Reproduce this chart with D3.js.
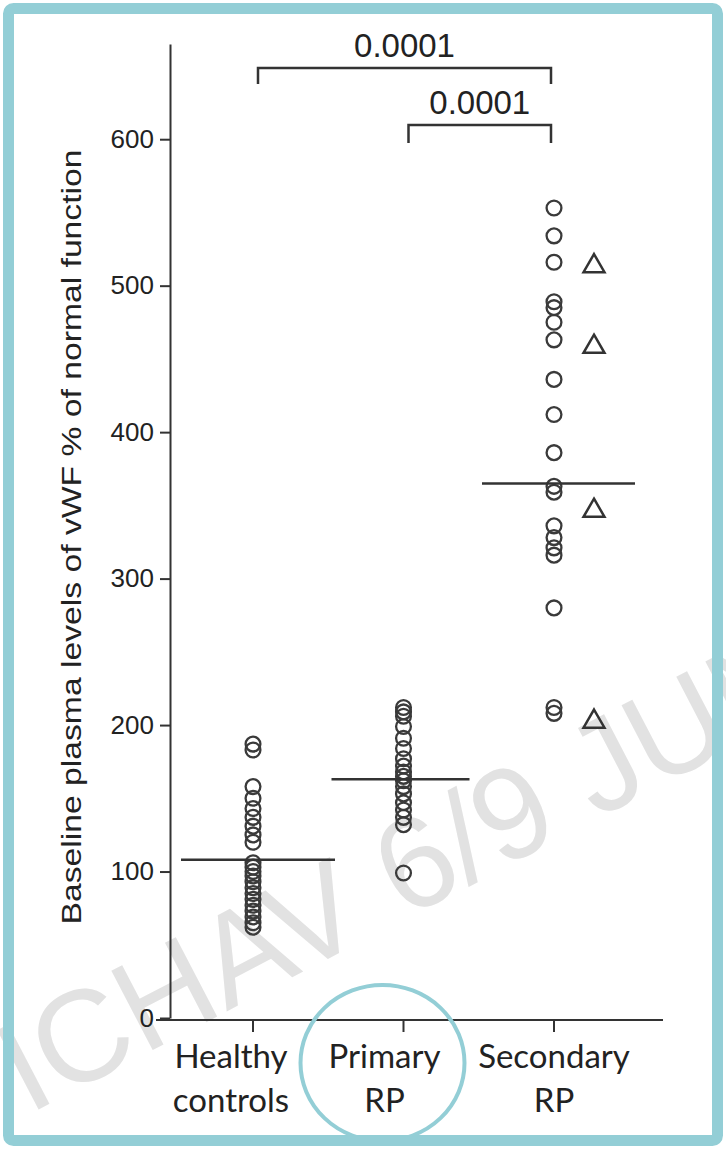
<!DOCTYPE html>
<html><head><meta charset="utf-8">
<script src="https://cdn.jsdelivr.net/npm/d3@7"></script>
<style>
html,body{margin:0;padding:0;background:#fff;}
svg{display:block;}
</style></head>
<body>
<svg id="chart" width="726" height="1149"></svg>
<script>
// ---- data ----
const categories = ["Healthy controls", "Primary RP", "Secondary RP"];
const categoryLines = [["Healthy", "controls"], ["Primary", "RP"], ["Secondary", "RP"]];
const healthyValues = [187, 183, 158, 150, 143, 137, 131, 125, 120, 106, 103, 100, 97, 93, 89, 85, 81, 77, 73, 69, 65, 62];
const primaryValues = [212, 209, 206, 199, 191, 184, 177, 172, 168, 165, 162, 158, 153, 147, 142, 137, 132, 99];
const secondaryValues = [553, 534, 516, 489, 485, 475, 463, 436, 412, 386, 363, 359, 336, 328, 321, 316, 280, 212, 208];
const secondaryTriangleValues = [514, 459, 347, 203];
const medians = [108, 163, 365];
const yTicks = [0, 100, 200, 300, 400, 500, 600];
const comparisons = [
  {from: "Healthy controls", to: "Secondary RP", label: "0.0001"},
  {from: "Primary RP", to: "Secondary RP", label: "0.0001"}
];
const yTitle = "Baseline plasma levels of vWF % of normal function";
const watermark = "ICHAV 6/9 JUN";

// ---- layout ----
const svg = d3.select("#chart");
const W = 726, H = 1149;
const teal = "#93ced6";
const ink = "#333";

const y = d3.scaleLinear().domain([0, 665]).range([1018, 44]);
const x = d3.scalePoint().domain(categories).range([253, 554]);

// watermark (behind)
svg.append("text")
  .attr("transform", "translate(28,1115) rotate(-27.5)")
  .attr("font-family", "Liberation Sans, Arial, sans-serif")
  .attr("font-size", 130)
  .attr("fill", "#e2e2e2")
  .text(watermark);

// y axis
const yAxisX = 170;
const yAxis = d3.axisLeft(y).tickValues(yTicks).tickSize(10).tickSizeOuter(0).tickPadding(6);
const gy = svg.append("g").attr("transform", `translate(${yAxisX},0)`).call(yAxis);
gy.select(".domain").attr("stroke", ink).attr("stroke-width", 2);
gy.selectAll(".tick line").attr("stroke", ink).attr("stroke-width", 2);
gy.selectAll(".tick text")
  .attr("font-family", "Liberation Sans, Arial, sans-serif")
  .attr("font-size", 26).attr("fill", "#222");

// x axis
const xAxisY = y(0) + 2;
svg.append("line").attr("x1", 156).attr("x2", 663).attr("y1", xAxisY).attr("y2", xAxisY)
  .attr("stroke", ink).attr("stroke-width", 2);
svg.selectAll(".xtick").data(categories).enter().append("line")
  .attr("x1", d => x(d)).attr("x2", d => x(d))
  .attr("y1", xAxisY).attr("y2", xAxisY + 12)
  .attr("stroke", ink).attr("stroke-width", 2);

const labelDx = [-22, -19, 0];
categories.forEach((c, i) => {
  const t = svg.append("text")
    .attr("font-family", "Lato, 'Open Sans', sans-serif")
    .attr("font-size", 33).attr("fill", "#222")
    .attr("text-anchor", "middle");
  categoryLines[i].forEach((ln, j) => {
    t.append("tspan").attr("x", x(c) + labelDx[i]).attr("y", 1068 + j * 44).text(ln);
  });
});

// y title
svg.append("text")
  .attr("transform", `translate(81,${537}) rotate(-90)`)
  .attr("text-anchor", "middle")
  .attr("font-family", "Liberation Sans, Arial, sans-serif")
  .attr("font-size", 27)
  .attr("fill", "#222")
  .attr("textLength", 775).attr("lengthAdjust", "spacingAndGlyphs")
  .text(yTitle);

// points
const groups = [healthyValues, primaryValues, secondaryValues];
groups.forEach((vals, i) => {
  svg.append("g").selectAll("circle").data(vals).enter().append("circle")
    .attr("cx", x(categories[i]))
    .attr("cy", d => y(d))
    .attr("r", 7.4)
    .attr("fill", "none")
    .attr("stroke", "#3a3a3a")
    .attr("stroke-width", 2.3);
});

// triangles
const tri = d3.symbol().type(d3.symbolTriangle).size(190);
svg.append("g").selectAll("path").data(secondaryTriangleValues).enter().append("path")
  .attr("d", tri)
  .attr("transform", d => `translate(${x("Secondary RP") + 40},${y(d) + 1})`)
  .attr("fill", "none").attr("stroke", "#333").attr("stroke-width", 2.5)
  .attr("stroke-linejoin", "miter");

// medians
svg.append("g").selectAll("line").data(medians).enter().append("line")
  .attr("x1", (d, i) => x(categories[i]) - 72)
  .attr("x2", (d, i) => x(categories[i]) + [82, 66, 81][i])
  .attr("y1", d => y(d)).attr("y2", d => y(d))
  .attr("stroke", "#333").attr("stroke-width", 2.5);

// comparison brackets
const bracketY = [68, 125];
const bracketDrop = [16, 18];
comparisons.forEach((c, i) => {
  const x1 = x(c.from) + 5, x2 = x(c.to) - 3;
  const by = bracketY[i];
  svg.append("path")
    .attr("d", `M${x1},${by + bracketDrop[i]}V${by}H${x2}V${by + bracketDrop[i]}`)
    .attr("fill", "none").attr("stroke", "#333").attr("stroke-width", 2.5);
  svg.append("text")
    .attr("x", (x1 + x2) / 2).attr("y", by - 11)
    .attr("text-anchor", "middle")
    .attr("font-family", "Liberation Sans, Arial, sans-serif")
    .attr("font-size", 33).attr("fill", "#222")
    .text(c.label);
});

// teal ellipse annotation around Primary RP label
svg.append("ellipse")
  .attr("cx", x("Primary RP") - 21).attr("cy", 1063)
  .attr("rx", 82).attr("ry", 78)
  .attr("fill", "none").attr("stroke", teal).attr("stroke-width", 4);

// frame
svg.append("rect")
  .attr("x", 8.5).attr("y", 8.5).attr("width", W - 17).attr("height", H - 17)
  .attr("rx", 5)
  .attr("fill", "none").attr("stroke", teal).attr("stroke-width", 11);
</script>
</body></html>
